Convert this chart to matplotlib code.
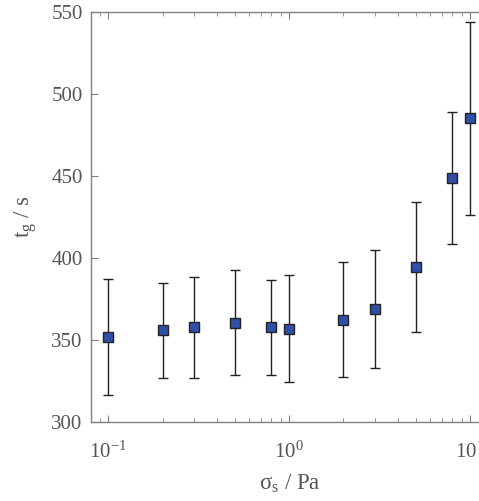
import numpy as np
import matplotlib
matplotlib.use("Agg")
import matplotlib.pyplot as plt

# stress sigma_s (Pa) and gel time t_g (s) with error bar limits
stress = [0.1, 0.2, 0.3, 0.5, 0.8, 1.0, 2.0, 3.0, 5.0, 8.0, 10.0]
tg = [352, 356, 357.6, 360.4, 357.8, 356.8, 362.2, 368.8, 394.6, 448.9, 485.1]
tg_upper = [387, 385, 388.5, 392.5, 386.5, 389.7, 397.6, 404.7, 434.2, 488.9, 544]
tg_lower = [316.5, 327, 327, 328.5, 328.5, 324.4, 327.5, 333, 354.9, 408.4, 426.1]

plt.rcParams['font.family'] = ['Liberation Serif', 'DejaVu Serif']
plt.rcParams['mathtext.fontset'] = 'custom'
plt.rcParams['mathtext.rm'] = 'Liberation Serif'
plt.rcParams['mathtext.it'] = 'Liberation Serif:italic'

text_col = "#555555"
spine_col = "#808080"

fig = plt.figure(figsize=(4.79, 5.01), dpi=100)
ax = fig.add_axes([0.19, 0.158, 0.829, 0.818])

y = np.array(tg)
yerr = np.array([y - np.array(tg_lower), np.array(tg_upper) - y])
ax.errorbar(stress, y, yerr=yerr, fmt='s', color='#2f4fa8', markeredgecolor='#222222',
            markeredgewidth=1.0, markersize=6.5, ecolor='#222222', elinewidth=1.0,
            capsize=3.5, capthick=1.8, zorder=3)

ax.set_xscale('log')
ax.set_xlim(10 ** -1.094, 10 ** 1.1)
ax.set_ylim(300, 550)
ax.set_yticks([300, 350, 400, 450, 500, 550])

for side in ['left', 'bottom', 'top']:
    ax.spines[side].set_color(spine_col)
    ax.spines[side].set_linewidth(1.0)
ax.spines['right'].set_visible(False)

ax.tick_params(axis='x', which='both', direction='in', top=True, colors=spine_col,
               labelcolor=text_col, labelsize=15, pad=14)
ax.tick_params(axis='x', which='major', length=5)
ax.tick_params(axis='x', which='minor', length=3)
ax.tick_params(axis='y', which='major', direction='in', length=5, colors=spine_col,
               labelcolor=text_col, labelsize=15, pad=6)

ax.set_xlabel(r'σ$_\mathregular{s}$ / Pa', fontsize=16.5, color=text_col, labelpad=7)
ax.set_ylabel(r't$_\mathregular{g}$ / s', fontsize=16.5, color=text_col, labelpad=9)

fig.savefig('out.png', dpi=100)
